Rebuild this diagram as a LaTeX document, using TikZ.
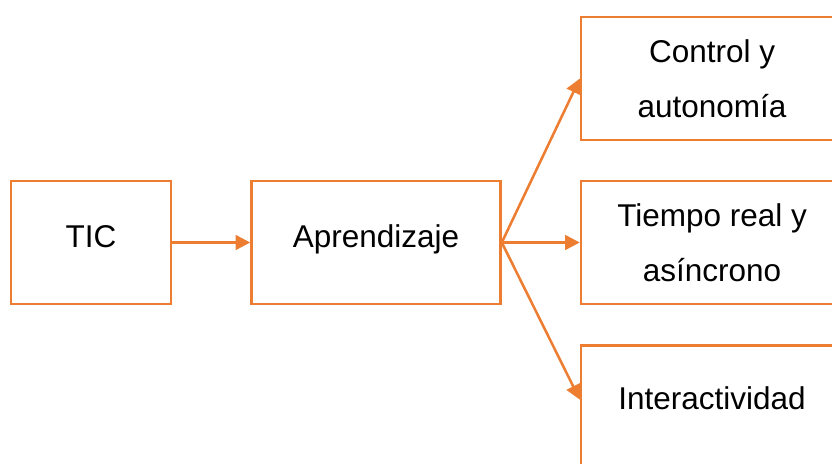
\documentclass[tikz,border=0pt]{standalone}
\usepackage{fontspec}
\setmainfont{Liberation Sans}
\usetikzlibrary{positioning,arrows.meta}
\definecolor{naranja}{RGB}{237,125,49}

\begin{document}
\begin{tikzpicture}[
		caja/.style={draw=naranja, line width=1.8pt, minimum height=3.075cm, align=center,
			font=\fontsize{22.4}{39}\selectfont, inner sep=0pt},
		flecha/.style={draw=naranja, line width=1.8pt, -{Triangle[length=10.5pt,width=10.5pt]}}
	]
			\clip (0,0) rectangle (20.8,-11.6);
			\useasboundingbox (0,0) rectangle (20.8,-11.6);
			\node[caja, minimum width=4cm, text depth=.3cm] (tic) at (2.275,-6.0625) {TIC};
			\node[caja, minimum width=6.225cm, text depth=.3cm, right=1.95cm of tic] (apr) {Aprendizaje};
			\node[caja, minimum width=6.55cm, right=1.95cm of apr] (tiempo) {Tiempo real y\\as\'incrono};
			\node[caja, minimum width=6.55cm, above=.96cm of tiempo] (control) {Control y\\autonom\'ia};
			\node[caja, minimum width=6.55cm, text depth=.45cm, below=.98cm of tiempo] (inter) {Interactividad};
			\draw[flecha] (tic) -- (apr);
			\draw[flecha] (apr.east) -- (tiempo.west);
			\draw[flecha] (apr.east) -- (control.west);
			\draw[flecha] (apr.east) -- ([yshift=.19cm]inter.west);
		\end{tikzpicture}
\end{document}
